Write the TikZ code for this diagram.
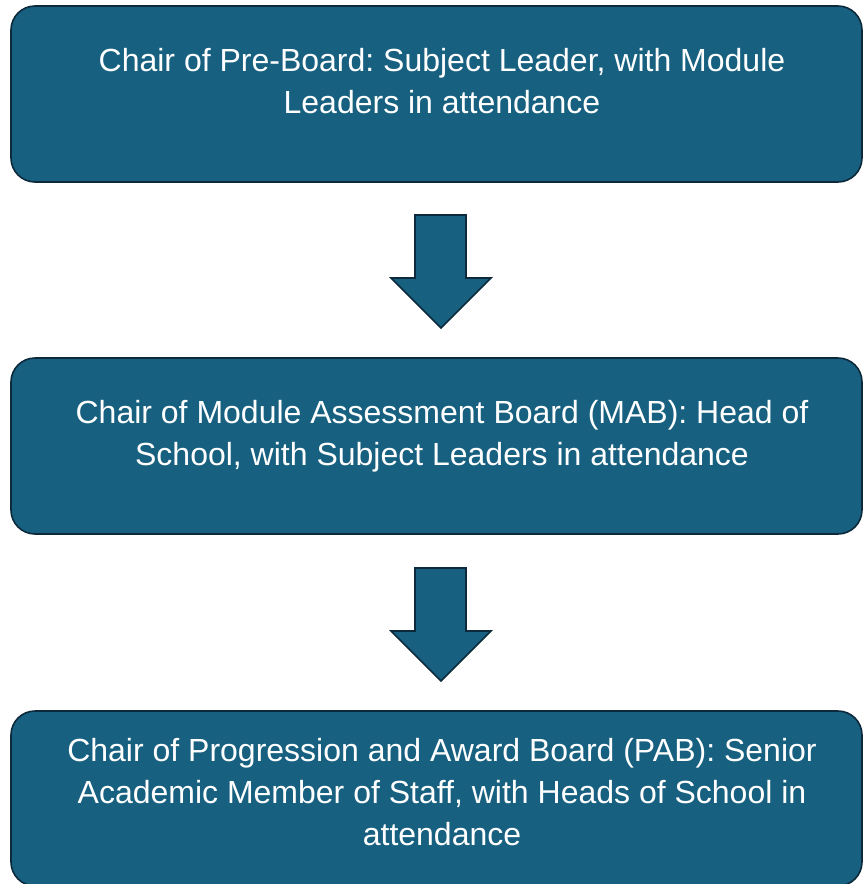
\documentclass[tikz,border=0pt]{standalone}
\usepackage{fontspec}
\setmainfont{Liberation Sans}
\definecolor{boxfill}{RGB}{23,96,128}
\definecolor{boxline}{RGB}{12,42,60}
\frenchspacing
\begin{document}
\begin{tikzpicture}[x=1pt,y=-1pt,
  stagebox/.style={fill=boxfill,draw=boxline,line width=1.6pt,rounded corners=24pt},
  stagetext/.style={text=white,align=center,font=\fontsize{32}{42}\selectfont,inner sep=0pt},
  downarrow/.style={fill=boxfill,draw=boxline,line width=1.6pt,line join=miter}]
\useasboundingbox (0,0) rectangle (863,884);
% boxes
\path[stagebox] (11,6) rectangle (862,182);
\path[stagebox] (11,358) rectangle (862,534);
\path[stagebox] (11,711) rectangle (862,886);
\node[stagetext] (t1) at (442,81) {Chair of Pre-Board: Subject Leader, with Module\\Leaders in attendance};
\node[stagetext] (t2) at (442,436) {Chair of Module Assessment Board (MAB): Head of\\School, with Subject Leaders in attendance};
\node[stagetext] (t3) at (442,792) {Chair of Progression and Award Board (PAB): Senior\\Academic Member of Staff, with Heads of School in\\attendance};
% arrows
\path[downarrow] (415,215) -- (466,215) -- (466,278) -- (491,278) -- (441,328) -- (391,278) -- (415,278) -- cycle;
\path[downarrow] (415,568) -- (466,568) -- (466,631) -- (491,631) -- (441,681) -- (391,631) -- (415,631) -- cycle;
\end{tikzpicture}
\end{document}
